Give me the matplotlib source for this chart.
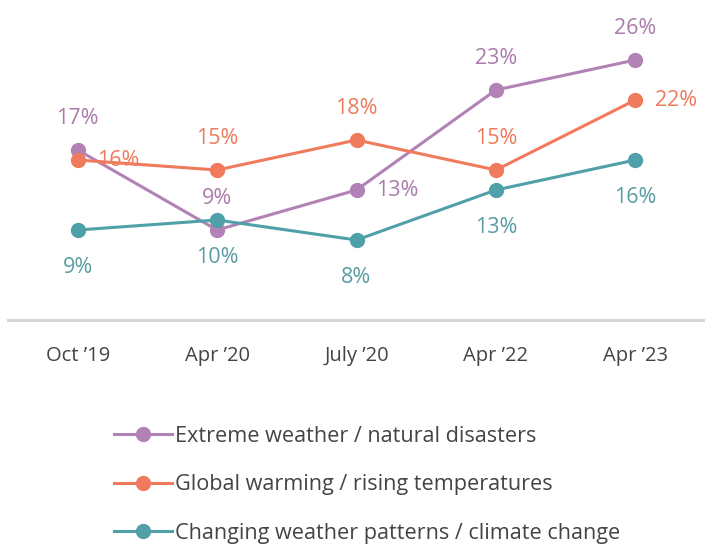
import numpy as np
from matplotlib import pyplot as plt

periods = ["Oct \u201919", "Apr \u201920", "July \u201920", "Apr \u201922", "Apr \u201923"]
extreme = [17, 9, 13, 23, 26]
warming = [16, 15, 18, 15, 22]
patterns = [9, 10, 8, 13, 16]

names = ["Extreme weather / natural disasters",
         "Global warming / rising temperatures",
         "Changing weather patterns / climate change"]
colors = ["#b282b6", "#f07a5c", "#4fa0a8"]
text_colors = ["#ab7bab", "#ee7a5c", "#5a9ca2"]

# where the value label sits: a = above, b = below, r = right
places = [["a", "a", "r", "a", "a"],
          ["r", "a", "a", "a", "r"],
          ["b", "b", "b", "b", "b"]]

plt.rcParams['font.family'] = ['Open Sans', 'DejaVu Sans']

fig = plt.figure(figsize=(7.05, 5.45), dpi=100)
ax = fig.add_axes([8 / 705, 225 / 545, 697 / 705, 320 / 545])

x = np.arange(len(periods))
lines = []
for vals, col, tcol, pl, name in zip([extreme, warming, patterns], colors, text_colors, places, names):
    ln, = ax.plot(x, vals, color=col, lw=2.2, marker='o', ms=10, label=name, zorder=3)
    lines.append(ln)
    for xi, v, p in zip(x, vals, pl):
        if p == "a":
            off, ha, va = (0, 23), 'center', 'center'
        elif p == "b":
            off, ha, va = (0, -27), 'center', 'center'
        else:
            off, ha, va = (14, 0), 'left', 'center'
        ax.annotate(f"{v}%", (xi, v), xytext=off, textcoords='offset points',
                    ha=ha, va=va, fontsize=15.5, color=tcol)

ax.set_xlim(-0.5, len(periods) - 0.5)
ax.set_ylim(0, 32)
for s in ['top', 'right', 'left']:
    ax.spines[s].set_visible(False)
ax.spines['bottom'].set_color('#d6d6d6')
ax.spines['bottom'].set_linewidth(2.2)
ax.set_yticks([])
ax.set_xticks(x, periods)
ax.tick_params(axis='x', length=0, pad=19, labelsize=14.5, labelcolor='#444444')

fig.legend(handles=lines, loc='upper left', bbox_to_anchor=(105 / 705, 1 - 417 / 545),
           frameon=False, fontsize=15.6, labelcolor='#444444', handlelength=2.7,
           handletextpad=0.15, labelspacing=1.27, borderaxespad=0)

fig.savefig("out.png", dpi=100, facecolor='white')
